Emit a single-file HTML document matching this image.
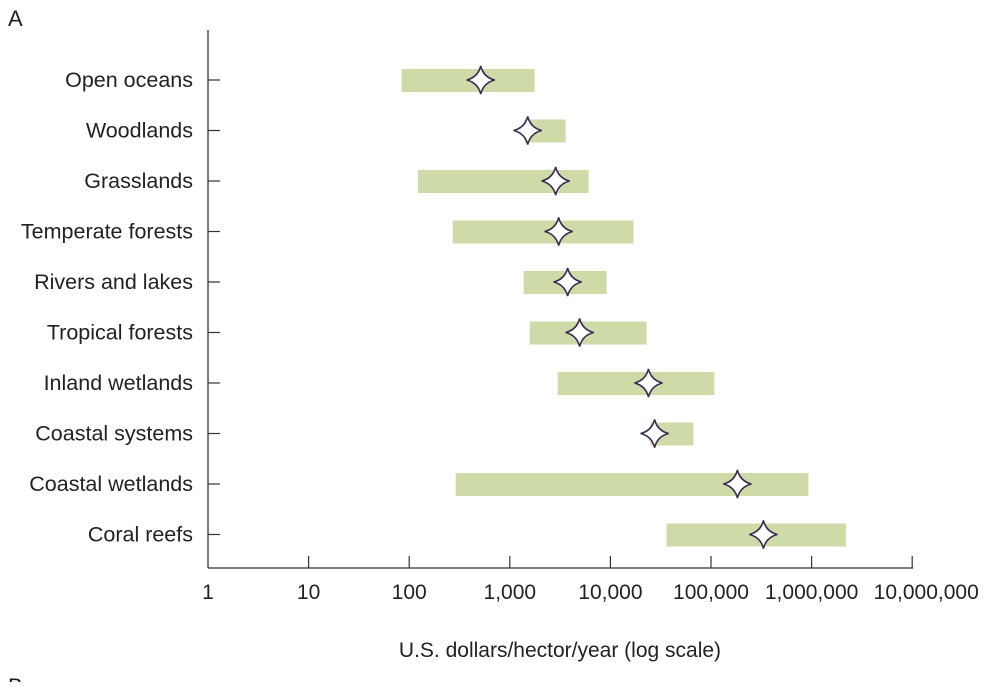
<!DOCTYPE html>
<html><head><meta charset="utf-8"><style>
body{margin:0;background:#fff;width:984px;height:682px;overflow:hidden;font-family:"Liberation Sans",sans-serif}
svg text{font-family:"Liberation Sans",sans-serif;fill:#222}
</style></head><body>
<svg id="c" width="984" height="682">
<text x="8" y="26" font-size="22">A</text>
<text x="8" y="694" font-size="22">B</text>
<text x="560" y="657" font-size="21" text-anchor="middle">U.S. dollars/hector/year (log scale)</text>
<g id="g"></g>
</svg>
<script>
const categories=["Open oceans","Woodlands","Grasslands","Temperate forests","Rivers and lakes","Tropical forests","Inland wetlands","Coastal systems","Coastal wetlands","Coral reefs"];
const lowValues=[84,1400,122,271,1374,1576,2990,25000,290,36100];
const highValues=[1766,3590,6070,17000,9170,22900,108000,67000,930000,2200000];
const meanValues=[514,1506,2856,3060,3757,4945,23900,27500,183000,332000];
const tickValues=[1,10,100,1000,10000,100000,1000000,10000000];
const tickLabels=["1","10","100","1,000","10,000","100,000","1,000,000","10,000,000"];
const NS="http://www.w3.org/2000/svg";
const g=document.getElementById('g');
const x0=208,dec=100.6,axisY=568,axisTop=30,rowY0=80,rowStep=50.5;
const xs=v=>x0+Math.log10(v)*dec;
const ys=i=>rowY0+i*rowStep;
function mk(t,a){const e=document.createElementNS(NS,t);for(const k in a)e.setAttribute(k,a[k]);g.appendChild(e);return e;}
let e=mk('line',{x1:x0,y1:axisTop,x2:x0,y2:axisY,stroke:'#333','stroke-width':1.3});


e=mk('line',{x1:x0,y1:axisY,x2:xs(1e7)+1,y2:axisY,stroke:'#333','stroke-width':1.3});


tickValues.forEach((v,i)=>{
  const x=xs(v);
  if(i>0){const t=mk('line',{x1:x,y1:axisY,x2:x,y2:axisY-12,stroke:'#333','stroke-width':1.2});
  
  }
  const l=mk('text',{x:x+(i===7?14:0),y:axisY+31,'font-size':21,'text-anchor':'middle'});l.textContent=tickLabels[i];
  
  
});
categories.forEach((c,i)=>{
  const y=ys(i);
  const t=mk('line',{x1:x0,y1:y,x2:x0+12,y2:y,stroke:'#333','stroke-width':1.2});
  
  
  const l=mk('text',{x:193,y:y+7,'font-size':21.5,'text-anchor':'end'});l.textContent=c;
  
  
  const b=mk('rect',{x:xs(lowValues[i]),y:y-11,width:xs(highValues[i])-xs(lowValues[i]),height:23,fill:'#cfdaa9'});
  
  
  const cx=xs(meanValues[i]),r=14,q=2.8;
  const s=mk('path',{d:`M${cx},${y-r} Q${cx+q},${y-q} ${cx+r},${y} Q${cx+q},${y+q} ${cx},${y+r} Q${cx-q},${y+q} ${cx-r},${y} Q${cx-q},${y-q} ${cx},${y-r}Z`,fill:'#fff',stroke:'#3b2b4d','stroke-width':1.6});
  
  
});
</script>
</body></html>
